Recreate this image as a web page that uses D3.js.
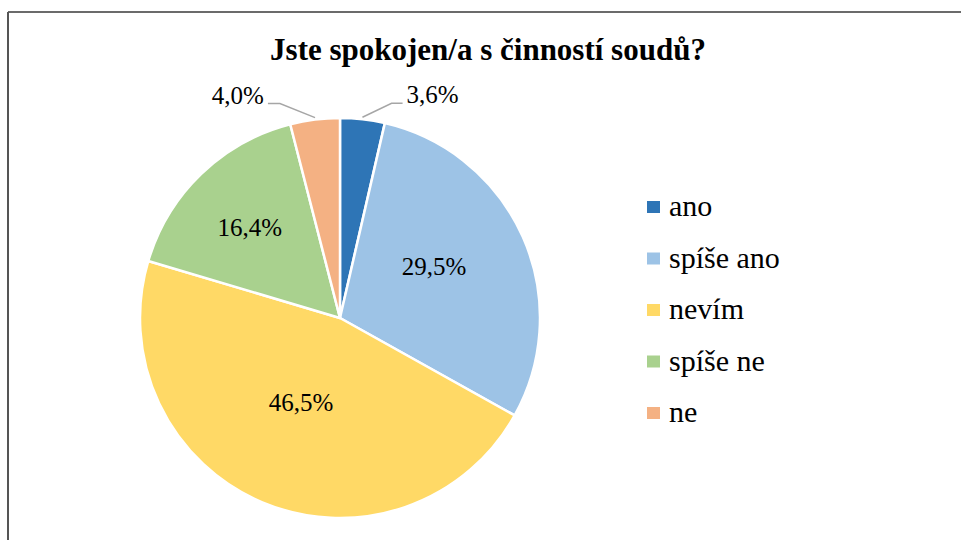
<!DOCTYPE html>
<html>
<head>
<meta charset="utf-8">
<script src="https://cdn.jsdelivr.net/npm/d3@7"></script>
<style>
  html, body { margin: 0; padding: 0; background: #fff; }
</style>
</head>
<body>
<svg id="chart" width="961" height="540"></svg>
<script>
// ---- data ----
const title = "Jste spokojen/a s činností soudů?";
const categories = ["ano", "spíše ano", "nevím", "spíše ne", "ne"];
const values = [3.6, 29.5, 46.5, 16.4, 4.0];
const labels = ["3,6%", "29,5%", "46,5%", "16,4%", "4,0%"];
const colors = ["#2e75b6", "#9dc3e6", "#ffd966", "#a9d18e", "#f4b183"];

// ---- layout (not data) ----
const W = 961, H = 540;
const cx = 340, cy = 318, R = 200;
const FONT = "'Liberation Serif', 'Times New Roman', Times, serif";
// label placement: inside labels = centroid at 0.55R plus a nudge; outside labels with leader lines
const labelLayout = [
  { out: true, dx: 44, dy: -16, elbow: 11 },
  { out: false, nx: -6.5, ny: -7 },
  { out: false, nx: 3.7, ny: -17 },
  { out: false, nx: -14, ny: -11 },
  { out: true, dx: -51, dy: -16, elbow: -12 }
];

const svg = d3.select("#chart");

// frame
svg.append("line").attr("x1", 8).attr("y1", 12).attr("x2", W).attr("y2", 12)
  .attr("stroke", "#3a3a3a").attr("stroke-width", 1.5);
svg.append("line").attr("x1", 8).attr("y1", 12).attr("x2", 8).attr("y2", H)
  .attr("stroke", "#555").attr("stroke-width", 2);

// title
svg.append("text")
  .attr("x", 488).attr("y", 60)
  .attr("text-anchor", "middle")
  .style("font-family", FONT)
  .attr("font-size", 31).attr("font-weight", "bold")
  .attr("fill", "#000")
  .text(title);

const pie = d3.pie().sort(null).value(d => d)(values);
const arc = d3.arc().innerRadius(0).outerRadius(R);
const labelArc = d3.arc().innerRadius(R * 0.55).outerRadius(R * 0.55);
const color = d3.scaleOrdinal().domain(categories).range(colors);

const g = svg.append("g").attr("transform", `translate(${cx},${cy})`);

g.selectAll("path.slice")
  .data(pie)
  .join("path")
  .attr("class", "slice")
  .attr("d", arc)
  .attr("fill", (d, i) => color(categories[i]))
  .attr("stroke", "#fff")
  .attr("stroke-width", 2.5)
  .attr("stroke-linejoin", "round");

// labels
pie.forEach((d, i) => {
  const mid = (d.startAngle + d.endAngle) / 2;
  const L = labelLayout[i];
  if (!L.out) {
    const c = labelArc.centroid(d);
    g.append("text")
      .attr("x", c[0] + L.nx).attr("y", c[1] + L.ny + 8.5)
      .attr("text-anchor", "middle")
      .style("font-family", FONT)
      .attr("font-size", 25)
      .attr("fill", "#000")
      .text(labels[i]);
  } else {
    const px = Math.sin(mid) * R, py = -Math.cos(mid) * R;
    const p0 = [Math.sin(mid) * (R - 1), -Math.cos(mid) * (R + 2)];
    const ty = py + L.dy;
    const tx = px + L.dx;
    const endX = tx - Math.sign(L.dx) * 4;
    const elbowX = endX - L.elbow;
    g.append("path")
      .attr("d", d3.line()([p0, [elbowX, ty], [endX, ty]]))
      .attr("fill", "none")
      .attr("stroke", "#a6a6a6")
      .attr("stroke-width", 1.5);
    g.append("text")
      .attr("x", tx).attr("y", ty)
      .attr("text-anchor", L.dx > 0 ? "start" : "end")
      .style("font-family", FONT)
      .attr("font-size", 25)
      .attr("fill", "#000")
      .text(labels[i]);
  }
});

// legend
const legend = svg.append("g").attr("transform", "translate(647,207)");
const items = legend.selectAll("g")
  .data(categories)
  .join("g")
  .attr("transform", (d, i) => `translate(0,${i * 51.5})`);
items.append("rect")
  .attr("x", 0).attr("y", -6).attr("width", 13).attr("height", 12)
  .attr("fill", d => color(d));
items.append("text")
  .attr("x", 22).attr("y", 9)
  .style("font-family", FONT)
  .attr("font-size", 30)
  .attr("fill", "#000")
  .text(d => d);
</script>
</body>
</html>
